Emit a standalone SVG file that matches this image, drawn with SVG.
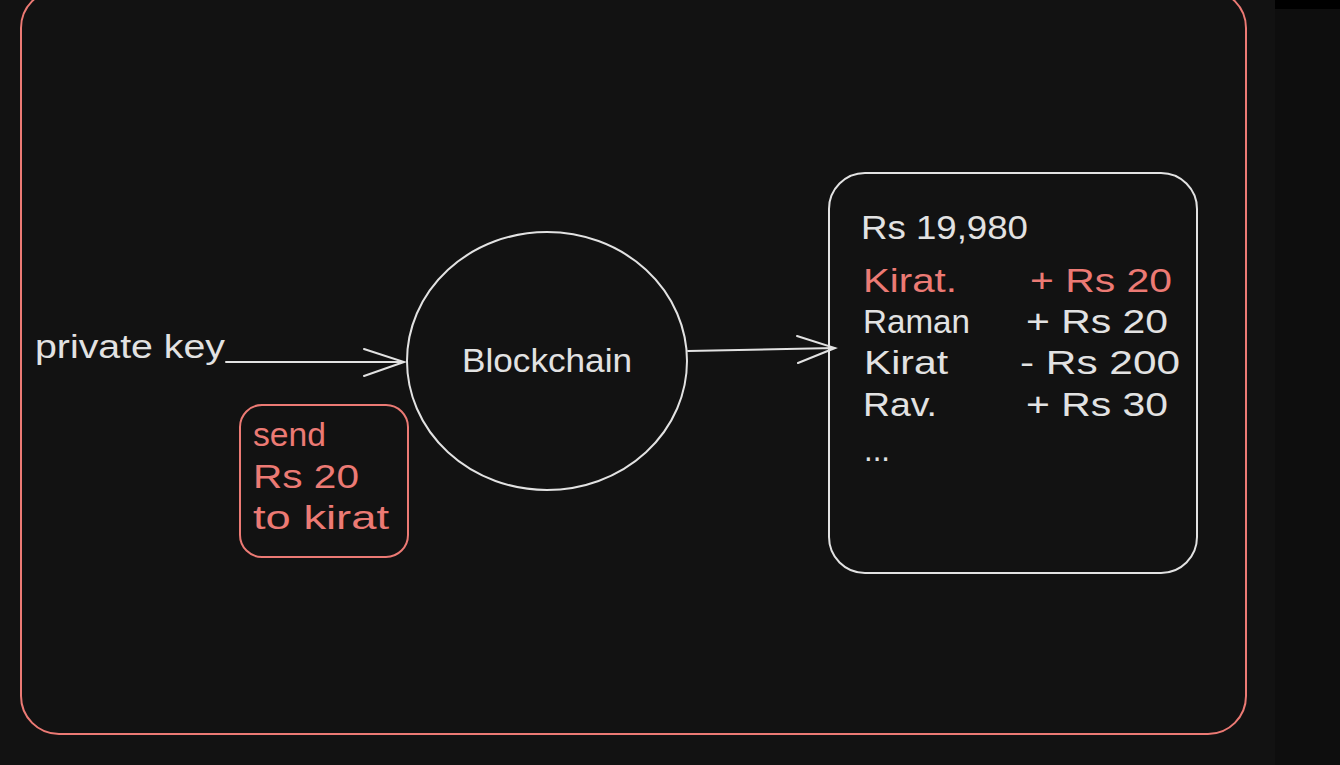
<svg xmlns="http://www.w3.org/2000/svg" width="1340" height="765" viewBox="0 0 1340 765">
<style>
.t{font-family:"Liberation Sans",Arial,sans-serif;font-size:33px;fill:#e2e2e2}
.r{fill:#ec7a74}
.ln{fill:none;stroke:#e2e2e2;stroke-width:2;stroke-linecap:round}
</style>
<rect width="1340" height="765" fill="#121212"/>
<rect x="1275" y="0" width="65" height="765" fill="#0e0e0e"/>
<rect x="1275" y="0" width="65" height="9" fill="#000"/>
<g id="frame"><rect x="21" y="-10" width="1225" height="744" rx="38" fill="none" stroke="#ec7a74" stroke-width="2"/></g>
<g id="private-key"><text class="t" x="35" y="358" textLength="190" lengthAdjust="spacingAndGlyphs">private key</text></g>
<g id="blockchain">
<ellipse cx="547" cy="361" rx="140" ry="129" class="ln"/>
<text class="t" x="547" y="372" text-anchor="middle" textLength="170" lengthAdjust="spacingAndGlyphs">Blockchain</text>
</g>
<g id="tx">
<rect x="240" y="405" width="168" height="152" rx="22" fill="none" stroke="#ec7a74" stroke-width="2"/>
<text class="t r" x="253" y="446" textLength="73" lengthAdjust="spacingAndGlyphs">send</text>
<text class="t r" x="253" y="488" textLength="106" lengthAdjust="spacingAndGlyphs">Rs 20</text>
<text class="t r" x="253" y="529" textLength="136" lengthAdjust="spacingAndGlyphs">to kirat</text>
</g>
<g id="ledger">
<rect x="829" y="173" width="368" height="400" rx="36" class="ln"/>
<text class="t" x="861" y="239" textLength="167" lengthAdjust="spacingAndGlyphs">Rs 19,980</text>
<text class="t r" x="863" y="292" textLength="94" lengthAdjust="spacingAndGlyphs">Kirat.</text>
<text class="t r" x="1030" y="292" textLength="142" lengthAdjust="spacingAndGlyphs">+ Rs 20</text>
<text class="t" x="863" y="333" textLength="107" lengthAdjust="spacingAndGlyphs">Raman</text>
<text class="t" x="1026" y="333" textLength="142" lengthAdjust="spacingAndGlyphs">+ Rs 20</text>
<text class="t" x="864" y="374" textLength="84" lengthAdjust="spacingAndGlyphs">Kirat</text>
<text class="t" x="1020" y="374" textLength="160" lengthAdjust="spacingAndGlyphs">- Rs 200</text>
<text class="t" x="863" y="416" textLength="74" lengthAdjust="spacingAndGlyphs">Rav.</text>
<text class="t" x="1026" y="416" textLength="142" lengthAdjust="spacingAndGlyphs">+ Rs 30</text>
<text class="t" x="864" y="461" textLength="26" lengthAdjust="spacingAndGlyphs">...</text>
</g>
<g id="connectors">
<path class="ln" d="M226 362 L404 362 M364 349 L404 362 L364 376"/>
<path class="ln" d="M688 351 L835 348 M797 336 L835 348 L798 363"/>
</g>
</svg>
